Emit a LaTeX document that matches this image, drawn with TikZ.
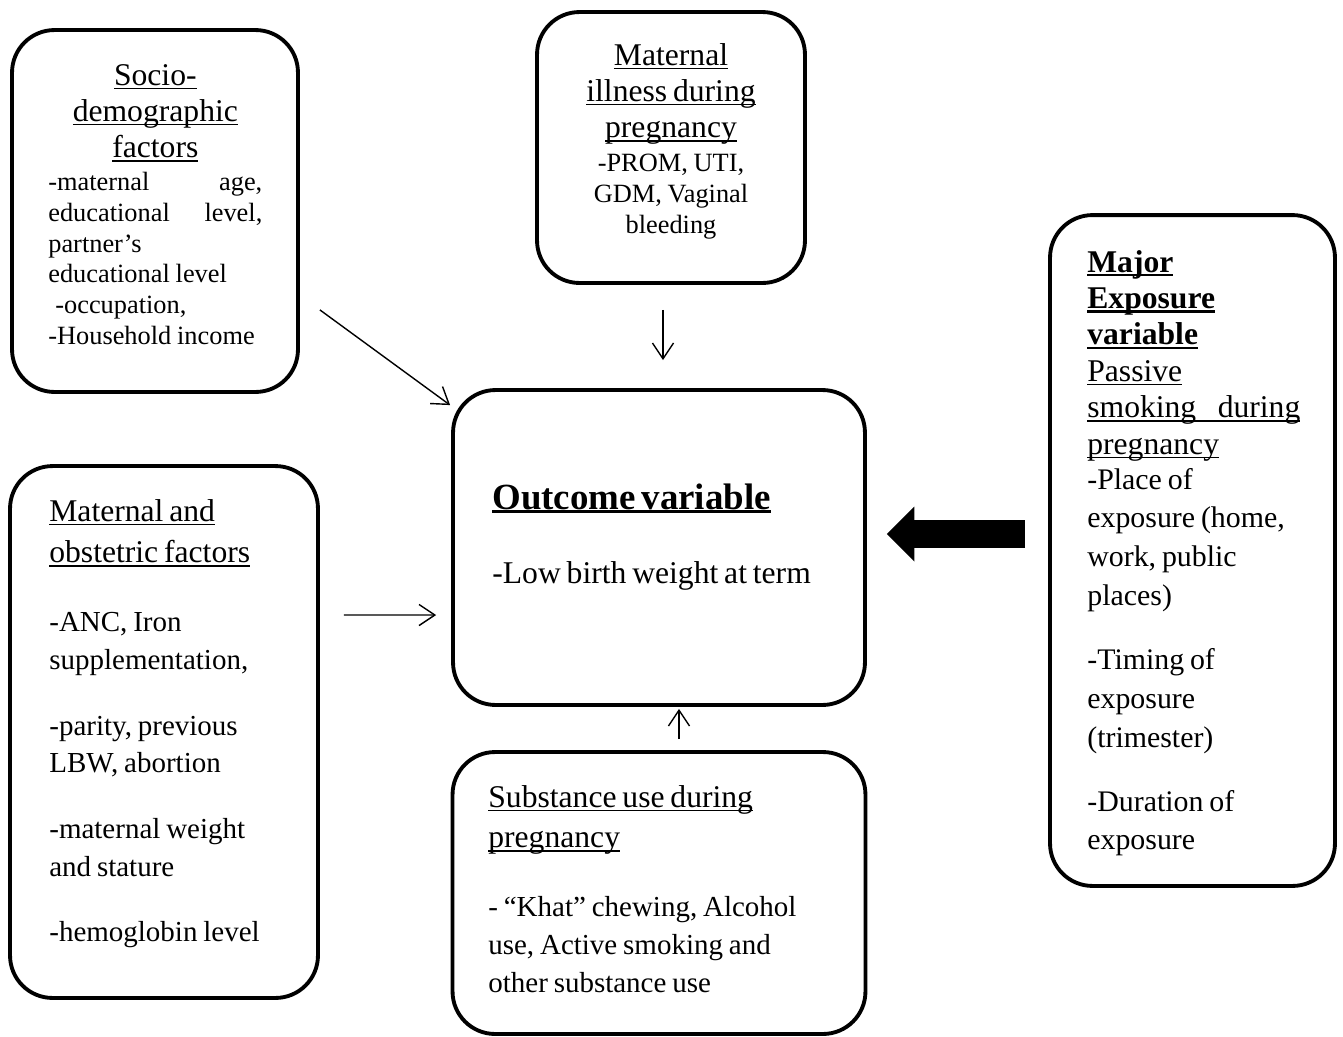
\documentclass[tikz,border=0pt]{standalone}
\usepackage{fontspec}
\setmainfont{Liberation Serif}
\usetikzlibrary{calc,arrows.meta}

\newcommand{\uln}[2][0.8pt]{\leavevmode\setbox0=\hbox{#2}\rlap{\rule[-2.3pt]{\wd0}{#1}}\box0}
\newcommand{\hsz}{\fontsize{18}{20.7}\selectfont}

\tikzset{
  box/.style={draw, line width=2.2pt, rounded corners=0.85cm},
  txt/.style={inner sep=0pt, align=left},
  arr/.style={line width=0.8pt, -{Straight Barb[length=9pt,width=12pt]}},
  fat/.style={line width=0.56cm, -{Triangle[length=0.55cm,width=1.1cm,line width=0pt]}}
}

\begin{document}
\begin{tikzpicture}[x=0.02cm,y=-0.02cm]
\useasboundingbox (0,0) rectangle (1343,1036);

% boxes
\node[box, minimum width=5.72cm, minimum height=7.24cm] (soc) at (155,211) {};
\node[box, minimum width=5.36cm, minimum height=5.42cm] (ill) at (671,147.5) {};
\node[box, minimum width=5.7cm, minimum height=13.42cm] (expo) at (1192.5,550.5) {};
\node[box, minimum width=8.24cm, minimum height=6.3cm] (out) at (659,547.5) {};
\node[box, minimum width=6.16cm, minimum height=10.64cm] (obs) at (164,732) {};
\node[box, minimum width=8.26cm, minimum height=5.64cm] (sub) at (659,893) {};

% texts
\node[txt, text width=4.28cm, anchor=base west] (soc-t) at (48,85) {%
  {\centering\hsz\uln{Socio-}\\\uln{demographic}\\\uln{factors}\\[1.2pt]}
  \fontsize{15}{17.5}\selectfont -maternal\hfill age,\\
  educational\hfill level,\\
  partner’s\\
  educational level\\
  \hspace*{4pt}-occupation,\\
  -Household income\par};

\node[txt, align=center, text width=4.6cm, anchor=base] (ill-t) at (671,65) {%
  \hsz\uln{Maternal}\\\uln{illness during}\\\uln{pregnancy}\\[1.7pt]
  \fontsize{15}{17.6}\selectfont -PROM, UTI,\\GDM, Vaginal\\bleeding\par};

\node[txt, text width=4.26cm, anchor=base west] (expo-t) at (1087,272) {%
  \fontsize{18}{20.75}\bfseries\selectfont
  \uln[1.3pt]{Major}\\\uln[1.3pt]{Exposure}\\\uln[1.3pt]{variable}\\
  \mdseries\uln{Passive}\\\uln{\makebox[\linewidth][s]{smoking\hfill during}}\\\uln{pregnancy}\\[-2.2pt]
  \fontsize{17}{22}\selectfont -Place of\\exposure (home,\\work, public\\places)\\[14.9pt]
  -Timing of\\exposure\\(trimester)\\[14.4pt]
  -Duration of\\exposure\par};

\node[txt, text width=7cm, anchor=base west] (out-t) at (492,509) {%
  \fontsize{21}{24}\bfseries\selectfont\uln[1.6pt]{Outcome variable}\\[21.6pt]
  \mdseries\fontsize{18}{21}\selectfont -Low birth weight at term\par};

\node[txt, text width=5.2cm, anchor=base west] (obs-t) at (49,521) {%
  \fontsize{18}{23.8}\selectfont\uln{Maternal and}\\\uln{obstetric factors}\\[17.6pt]
  \fontsize{16.5}{21.5}\selectfont -ANC, Iron\\supplementation,\\[15.9pt]
  -parity, previous\\LBW, abortion\\[15.9pt]
  -maternal weight\\and stature\\[15.9pt]
  -hemoglobin level\par};

\node[txt, text width=7.2cm, anchor=base west] (sub-t) at (488,807) {%
  \fontsize{18}{23.2}\selectfont\uln{Substance use during}\\\uln{pregnancy}\\[17.6pt]
  \fontsize{16.5}{21.5}\selectfont - “Khat” chewing, Alcohol\\use, Active smoking and\\other substance use\par};

% arrows
\draw[arr] ($(soc.south east)+(20,-84)$) -- ($(out.north west)+(-1,17)$);
\draw[arr] ($(ill.south)+(-8,25)$) -- ($(out.north)+(4,-28)$);
\draw[arr] ($(obs.east)+(24,-117)$) -- ($(out.west)+(-15,67.5)$);
\draw[arr] ($(sub.north)+(20,-11)$) -- ($(out.south)+(20,2)$);
\draw[fat] ($(expo.west)+(-23,-16.5)$) -- ($(out.east)+(20,-13.5)$);
\end{tikzpicture}
\end{document}
